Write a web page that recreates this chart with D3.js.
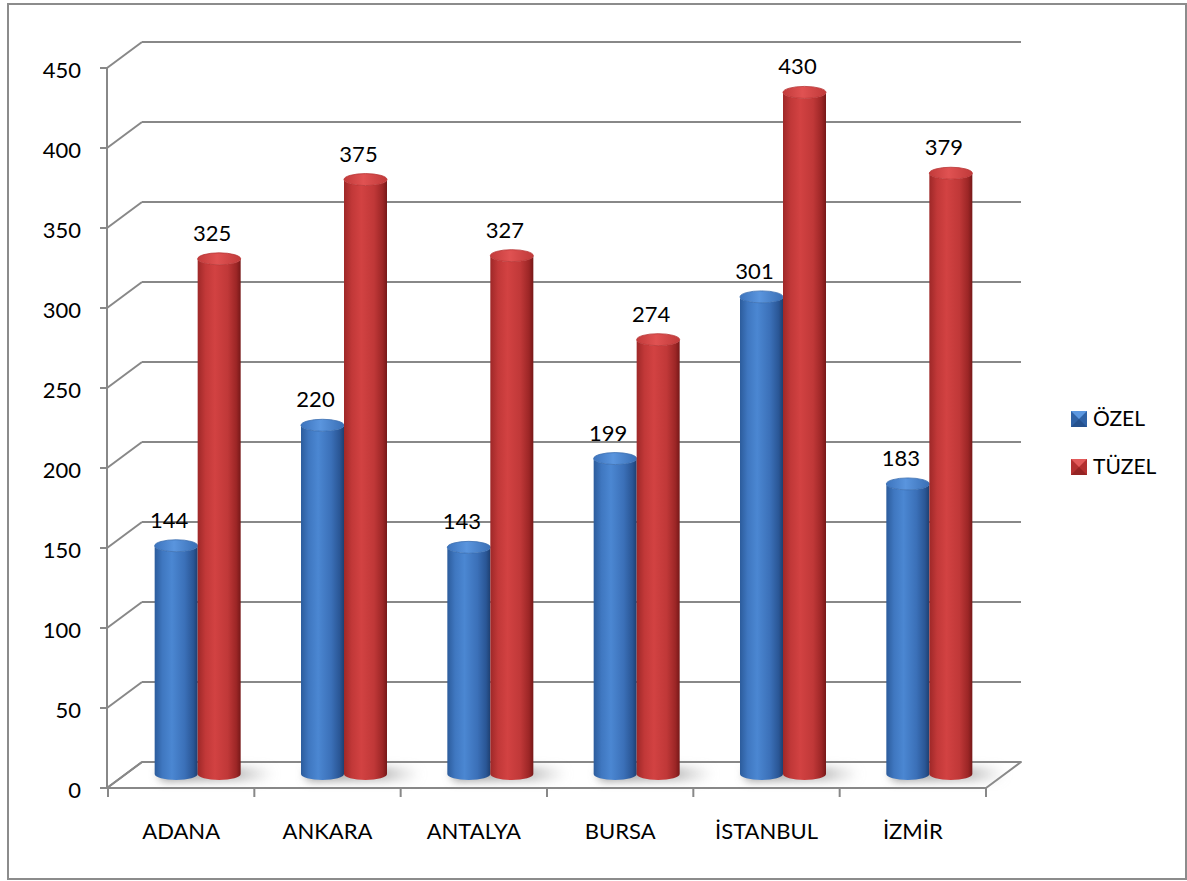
<!DOCTYPE html>
<html>
<head>
<meta charset="utf-8">
<script src="https://cdn.jsdelivr.net/npm/d3@7"></script>
<style>
  html, body { margin: 0; padding: 0; background: #fff; }
  svg { display: block; font-family: Lato, "Open Sans", sans-serif; }
</style>
</head>
<body>
<svg id="chart" width="1187" height="881"></svg>
<script>
// Number of cases per province, split by private (ÖZEL) and legal-entity (TÜZEL)
const cities = ["ADANA", "ANKARA", "ANTALYA", "BURSA", "İSTANBUL", "İZMİR"];
const ozel   = [144, 220, 143, 199, 301, 183];
const tuzel  = [325, 375, 327, 274, 430, 379];
const seriesNames = ["ÖZEL", "TÜZEL"];
const yTicks = [0, 50, 100, 150, 200, 250, 300, 350, 400, 450];

const svg = d3.select("#chart");
const defs = svg.append("defs");

// ---- layout ----
const frame = { x: 8, y: 4, w: 1178, h: 875 };
const depth = { dx: 35, dy: -26 };          // oblique offset of the back wall
const axisX = 107;

// front-plane value scale (axis and side-wall grid)
const y = d3.scaleLinear().domain([0, 450]).range([788, 68]);
// mid-depth value scale used by the cylinders
const yc = d3.scaleLinear().domain([0, 450]).range([774, 60.7]);
const x = d3.scaleBand().domain(cities).range([108, 986]).paddingInner(0).paddingOuter(0);

const rx = 21.5, ry = 6, pairShift = 16.5;

// ---- gradients ----
function bodyGradient(id, stops) {
  const g = defs.append("linearGradient").attr("id", id)
    .attr("x1", "0%").attr("x2", "100%").attr("y1", "0%").attr("y2", "0%");
  stops.forEach(([o, c]) => g.append("stop").attr("offset", o).attr("stop-color", c));
}
bodyGradient("blueBody", [["0%", "#2c5c9c"], ["18%", "#3f77c0"], ["40%", "#4b87d2"], ["70%", "#3b70b8"], ["90%", "#2a5695"], ["100%", "#1e3f70"]]);
bodyGradient("redBody",  [["0%", "#9e2828"], ["18%", "#c13838"], ["40%", "#d24242"], ["70%", "#c03838"], ["90%", "#9c2626"], ["100%", "#761818"]]);
bodyGradient("blueTop",  [["0%", "#3d74bd"], ["45%", "#5a95de"], ["100%", "#3a6fb5"]]);
bodyGradient("redTop",   [["0%", "#c23b3b"], ["45%", "#e05252"], ["100%", "#c03a3a"]]);

const shadowFilter = defs.append("filter").attr("id", "blurShadow")
  .attr("x", "-50%").attr("y", "-200%").attr("width", "200%").attr("height", "500%");
shadowFilter.append("feGaussianBlur").attr("stdDeviation", 5);

const shadowGrad = defs.append("linearGradient").attr("id", "shadowGrad")
  .attr("x1", "0%").attr("x2", "100%");
shadowGrad.append("stop").attr("offset", "0%").attr("stop-color", "#8c8c8c").attr("stop-opacity", 0.9);
shadowGrad.append("stop").attr("offset", "70%").attr("stop-color", "#9c9c9c").attr("stop-opacity", 0.6);
shadowGrad.append("stop").attr("offset", "100%").attr("stop-color", "#bbbbbb").attr("stop-opacity", 0);

// ---- outer frame ----
svg.append("rect")
  .attr("x", frame.x).attr("y", frame.y).attr("width", frame.w).attr("height", frame.h)
  .attr("fill", "#fff").attr("stroke", "#8c8c8c").attr("stroke-width", 2);

const gridColor = "#888888";
const xEnd = x.range()[1];

// ---- floor ----
const floorPts = [
  [axisX, y(0)], [xEnd, y(0)],
  [xEnd + depth.dx, y(0) + depth.dy], [axisX + depth.dx, y(0) + depth.dy]
];
svg.append("polygon")
  .attr("points", floorPts.map(p => p.join(",")).join(" "))
  .attr("fill", "#fff").attr("stroke", gridColor).attr("stroke-width", 2)
  .attr("stroke-linejoin", "round");

// ---- back wall grid + side-wall diagonals ----
const grid = svg.append("g").attr("stroke", gridColor).attr("stroke-width", 2).attr("fill", "none");
yTicks.forEach(v => {
  const yb = y(v) + depth.dy;
  if (v > 0) {
    grid.append("line")
      .attr("x1", axisX + depth.dx).attr("y1", yb)
      .attr("x2", xEnd + depth.dx).attr("y2", yb);
  }
  grid.append("line")
    .attr("x1", axisX).attr("y1", y(v))
    .attr("x2", axisX + depth.dx).attr("y2", yb);
});

// ---- value axis ----
const yAxis = svg.append("g").attr("stroke", gridColor).attr("stroke-width", 2);
yAxis.append("line").attr("x1", axisX).attr("x2", axisX).attr("y1", y(0)).attr("y2", y(450));
yTicks.forEach(v => {
  yAxis.append("line").attr("x1", axisX - 7).attr("x2", axisX).attr("y1", y(v)).attr("y2", y(v));
});
svg.append("g").selectAll("text").data(yTicks).join("text")
  .attr("x", 81).attr("y", d => y(d) + 9.5)
  .attr("text-anchor", "end").attr("font-size", 22).attr("fill", "#000")
  .text(d => d);

// ---- category axis ticks and labels ----
const xTickPos = cities.map(c => x(c)).concat([xEnd]);
svg.append("g").attr("stroke", gridColor).attr("stroke-width", 2)
  .selectAll("line").data(xTickPos).join("line")
  .attr("x1", d => d).attr("x2", d => d).attr("y1", y(0)).attr("y2", y(0) + 9);
svg.append("g").selectAll("text").data(cities).join("text")
  .attr("x", d => x(d) + x.bandwidth() / 2).attr("y", 839)
  .attr("text-anchor", "middle").attr("font-size", 22).attr("fill", "#000")
  .text(d => d);

// ---- cylinders ----
const rows = cities.map((c, i) => ({ city: c, values: [ozel[i], tuzel[i]] }));
const pairCenter = c => x(c) + x.bandwidth() / 2 + pairShift;

// floor shadows behind each pair
svg.append("g").selectAll("rect").data(rows).join("rect")
  .attr("x", d => pairCenter(d.city) - 2 * rx + 4)
  .attr("y", yc(0) - 7)
  .attr("width", 4 * rx + 30)
  .attr("height", 14)
  .attr("rx", 7)
  .attr("fill", "url(#shadowGrad)")
  .attr("filter", "url(#blurShadow)");

function cylinderPath(cx, top, bottom) {
  return `M${cx - rx},${top} L${cx - rx},${bottom} ` +
         `A${rx},${ry} 0 0 0 ${cx + rx},${bottom} L${cx + rx},${top} ` +
         `A${rx},${ry} 0 0 1 ${cx - rx},${top} Z`;
}

const bodyFill = ["url(#blueBody)", "url(#redBody)"];
const topFill = ["url(#blueTop)", "url(#redTop)"];
const topStroke = ["#3a6db0", "#b83434"];

const cyl = svg.append("g");
rows.forEach(r => {
  r.values.forEach((v, s) => {
    const cx = pairCenter(r.city) + (s === 0 ? -rx : rx);
    const top = yc(v), bottom = yc(0);
    const g = cyl.append("g");
    g.append("path").attr("d", cylinderPath(cx, top, bottom)).attr("fill", bodyFill[s]);
    g.append("ellipse").attr("cx", cx).attr("cy", top).attr("rx", rx).attr("ry", ry)
      .attr("fill", topFill[s]).attr("stroke", topStroke[s]).attr("stroke-width", 0.8);
  });
});

// ---- value labels ----
const labels = svg.append("g").attr("font-size", 22).attr("fill", "#000").attr("text-anchor", "middle");
rows.forEach(r => {
  r.values.forEach((v, s) => {
    const cx = pairCenter(r.city) + (s === 0 ? -rx : rx);
    labels.append("text").attr("x", cx - 7).attr("y", yc(v) - 18).text(v);
  });
});

// ---- legend ----
const legendColors = [
  { base: "#2f62a6", light: "#5b97e0", dark: "#1f467f" },
  { base: "#b33030", light: "#e25a5a", dark: "#801c1c" }
];
const legend = svg.append("g");
seriesNames.forEach((name, i) => {
  const lx = 1071, ly = 411 + i * 48, s = 16;
  const g = legend.append("g");
  g.append("rect").attr("x", lx).attr("y", ly).attr("width", s).attr("height", s).attr("fill", legendColors[i].base);
  g.append("polygon")
    .attr("points", `${lx},${ly} ${lx + s},${ly} ${lx + s / 2},${ly + s / 2}`)
    .attr("fill", legendColors[i].light);
  g.append("polygon")
    .attr("points", `${lx},${ly + s} ${lx + s},${ly + s} ${lx + s / 2},${ly + s / 2}`)
    .attr("fill", legendColors[i].dark).attr("opacity", 0.6);
  g.append("text").attr("x", lx + 22).attr("y", ly + 15).attr("font-size", 21).attr("fill", "#000").text(name);
});
</script>
</body>
</html>
